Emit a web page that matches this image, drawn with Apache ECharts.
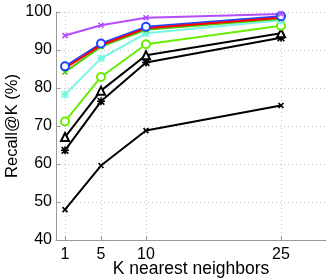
<!DOCTYPE html>
<html><head><meta charset="utf-8">
<script src="https://cdn.jsdelivr.net/npm/echarts@6/dist/echarts.min.js"></script>
<style>html,body{margin:0;padding:0;background:#fff}#c{width:332px;height:280px}</style>
</head><body><div id="c"></div>
<script>
var kValues = [1, 5, 10, 25];
var xTicks = [1, 5, 10, 25];
var yTicks = [40, 50, 60, 70, 80, 90, 100];
var purpleVals = [93.8, 96.5, 98.5, 99.5];
var blueVals = [85.7, 91.7, 96.1, 98.9];
var redVals = [85.2, 91.3, 95.7, 98.5];
var greenVals = [84.2, 90.9, 95.3, 98.2];
var cyanVals = [78.3, 87.8, 94.4, 97.8];
var limeVals = [71.2, 82.9, 91.5, 96.4];
var triVals = [67.1, 79.3, 88.6, 94.4];
var starVals = [63.6, 76.5, 86.7, 93.2];
var crossVals = [48.0, 59.6, 68.8, 75.4];

var X = 'path://M0,0L10,10M10,0L0,10';
var AST = 'path://M0,0L10,10M10,0L0,10M5,-1L5,11M-1,5L11,5';
function pts(v){ return kValues.map(function(k,i){return [k, v[i]];}); }
function mk(vals, color, symbol, size, z){
  return {type:'line', data:pts(vals), symbol:symbol, symbolSize:size, z:z||2,
    lineStyle:{color:color, width:2}, itemStyle:{color:color, borderColor:color, borderWidth:1.6},
    showSymbol: symbol!=='none', animation:false};
}
var chart = echarts.init(document.getElementById('c'));
chart.setOption({
  animation:false,
  grid:{left:56, top:12, right:6, bottom:40, containLabel:false, outerBoundsMode:'none'},
  xAxis:{type:'value', min:0, max:30,
    name:'K nearest neighbors', nameLocation:'middle', nameGap:20, nameMoveOverlap:false,
    nameTextStyle:{fontFamily:'Liberation Sans', fontSize:17.5, color:'#000', verticalAlign:'top'},
    axisLine:{show:true, lineStyle:{color:'#999', width:1}},
    axisTick:{show:true, inside:true, length:4, customValues:xTicks, lineStyle:{color:'#999'}},
    axisLabel:{customValues:xTicks, fontFamily:'Liberation Sans', fontSize:16, color:'#000', margin:7},
    splitLine:{show:true, lineStyle:{color:'#c4c4c4', type:[1,3], width:1}}
  },
  yAxis:{type:'value', min:40, max:100, interval:10,
    name:'Recall@K (%)', nameLocation:'middle', nameGap:35, nameMoveOverlap:false,
    nameTextStyle:{fontFamily:'Liberation Sans', fontSize:16.5, color:'#000'},
    axisLine:{show:true, lineStyle:{color:'#999', width:1}},
    axisTick:{show:true, inside:true, length:4, lineStyle:{color:'#999'}},
    axisLabel:{fontFamily:'Liberation Sans', fontSize:16, color:'#000', margin:4},
    splitLine:{show:true, lineStyle:{color:'#c4c4c4', type:[1,3], width:1}}
  },
  series:[
    mk(crossVals, '#000', X, 5),
    mk(starVals, '#000', AST, 8),
    mk(triVals, '#000', 'emptyTriangle', 8),
    mk(limeVals, '#66ee00', 'emptyCircle', 8),
    mk(cyanVals, '#77f5e0', AST, 8),
    mk(greenVals, '#44cc00', X, 5),
    mk(blueVals, '#2244ff', 'emptyCircle', 8),
    mk(redVals, '#ff0000', 'none', 0),
    mk(purpleVals, '#b34dff', X, 5)
  ]
});
</script></body></html>
